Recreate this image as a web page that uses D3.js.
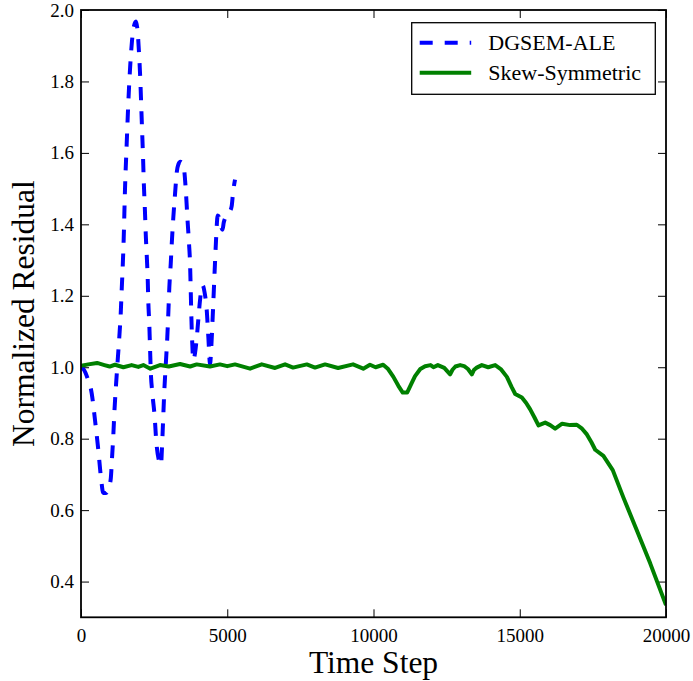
<!DOCTYPE html>
<html>
<head>
  <meta charset="utf-8">
  <title>Normalized Residual</title>
  <style>
    body { margin: 0; background: #fff; }
    svg { display: block; }
    text { font-family: "Liberation Serif", "DejaVu Serif", serif; fill: #000; }
    .tick line { stroke: #000; stroke-width: 1px; }
  </style>
  <script src="https://cdn.jsdelivr.net/npm/d3@7"></script>
</head>
<body>
<script>
  // DGSEM-ALE (blue, dashed)
  var dgsemSteps = [0, 100, 220, 366, 479, 592, 684, 762, 860, 960, 1020, 1060, 1105, 1145, 1197, 1255, 1310, 1358, 1392, 1426,
    1460, 1503, 1562, 1620, 1680, 1740, 1810, 1880, 1940, 1990, 2030, 2060, 2090, 2120, 2150, 2185, 2215, 2255, 2280, 2300,
    2335, 2360, 2385, 2440, 2520, 2570, 2660, 2735, 2765, 2794, 2849, 2907, 2951, 2985, 3020, 3068, 3102, 3157, 3215, 3273,
    3330, 3400, 3470, 3523, 3591, 3636, 3694, 3728, 3752, 3770, 3795, 3840, 3899, 3977, 4046, 4120, 4162, 4224, 4299, 4354,
    4412, 4457, 4502, 4580, 4616, 4674, 4740, 4800, 4840, 4880, 4990, 5080, 5150, 5200, 5266];
  var dgsemValues = [1.000, 0.993, 0.970, 0.927, 0.852, 0.768, 0.690, 0.648, 0.648, 0.665, 0.690, 0.745, 0.810, 0.880, 0.950, 1.020, 1.085, 1.150, 1.218, 1.282,
    1.360, 1.495, 1.625, 1.745, 1.840, 1.910, 1.955, 1.968, 1.935, 1.870, 1.800, 1.730, 1.660, 1.590, 1.510, 1.440, 1.370, 1.300, 1.250, 1.187,
    1.120, 1.055, 0.990, 0.927, 0.860, 0.796, 0.740, 0.726, 0.768, 0.824, 0.935, 1.020, 1.085, 1.150, 1.224, 1.290, 1.345, 1.420, 1.485, 1.545,
    1.568, 1.575, 1.572, 1.555, 1.485, 1.420, 1.345, 1.290, 1.215, 1.150, 1.085, 1.020, 1.040, 1.100, 1.168, 1.220, 1.229, 1.210, 1.159, 1.084,
    1.010, 1.060, 1.140, 1.290, 1.355, 1.425, 1.415, 1.390, 1.385, 1.405, 1.425, 1.435, 1.450, 1.490, 1.525];

  // Skew-Symmetric (green, solid)
  var skewSteps = [0, 250, 550, 800, 980, 1160, 1450, 1730, 1960, 2130, 2370, 2700, 3000, 3385, 3730, 3955, 4410, 4750, 5000, 5265,
    5780, 6180, 6635, 6977, 7250, 7720, 8000, 8345, 8790, 9300, 9650, 9880, 10070, 10330, 10500, 10680, 10850, 11000, 11150, 11300,
    11420, 11600, 11765, 11950, 12050, 12200, 12420, 12620, 12700, 12800, 12962, 13100, 13230, 13362, 13440, 13530, 13704, 13920, 14160, 14350,
    14560, 14720, 14845, 15072, 15220, 15357, 15500, 15640, 15870, 16040, 16210, 16450, 16720, 16950, 17130, 17295, 17450, 17580, 17860, 18180,
    18545, 18980, 19460, 20000];
  var skewValues = [1.004, 1.008, 1.012, 1.006, 1.002, 1.007, 1.000, 1.006, 1.001, 1.006, 0.996, 1.006, 1.002, 1.009, 1.002, 1.008, 1.002, 1.008, 1.003, 1.008,
    0.996, 1.008, 0.998, 1.008, 0.999, 1.008, 0.999, 1.008, 0.998, 1.008, 0.996, 1.007, 1.000, 1.007, 0.995, 0.973, 0.948, 0.929, 0.929, 0.955,
    0.975, 0.995, 1.003, 1.006, 1.000, 1.006, 0.998, 0.980, 0.993, 1.002, 1.006, 1.003, 0.995, 0.980, 0.993, 0.999, 1.006, 1.000, 1.006, 0.995,
    0.973, 0.945, 0.925, 0.915, 0.900, 0.882, 0.860, 0.837, 0.845, 0.838, 0.828, 0.842, 0.838, 0.839, 0.828, 0.812, 0.790, 0.769, 0.752, 0.712,
    0.635, 0.548, 0.451, 0.334];

  var xTicks = [0, 5000, 10000, 15000, 20000];
  var yTicks = [0.4, 0.6, 0.8, 1.0, 1.2, 1.4, 1.6, 1.8, 2.0];
  var seriesNames = ['DGSEM-ALE', 'Skew-Symmetric'];

  var width = 693, height = 681;
  var plotLeft = 81, plotRight = 666, plotTop = 10, plotBottom = 617.3;

  var x = d3.scaleLinear().domain([0, 20000]).range([plotLeft, plotRight]);
  var y = d3.scaleLinear().domain([0.3, 2.0]).range([plotBottom, plotTop]);

  var svg = d3.select('body').append('svg')
    .attr('width', width)
    .attr('height', height);

  svg.append('clipPath').attr('id', 'plot')
    .append('rect')
    .attr('x', plotLeft).attr('y', plotTop)
    .attr('width', plotRight - plotLeft).attr('height', plotBottom - plotTop);

  // axes with inward ticks
  svg.append('g')
    .attr('transform', `translate(0,${plotBottom})`)
    .call(d3.axisBottom(x).tickValues(xTicks).tickSize(-8).tickPadding(11).tickFormat(d3.format('d')))
    .call(g => g.select('.domain').remove())
    .selectAll('text').style('font-size', '19px').style('font-family', '"Liberation Serif", serif');

  svg.append('g')
    .attr('transform', `translate(0,${plotTop})`)
    .call(d3.axisTop(x).tickValues(xTicks).tickSize(-8).tickFormat(''))
    .call(g => g.select('.domain').remove());

  svg.append('g')
    .attr('transform', `translate(${plotLeft},0)`)
    .call(d3.axisLeft(y).tickValues(yTicks).tickSize(-8).tickPadding(7).tickFormat(d3.format('.1f')))
    .call(g => g.select('.domain').remove())
    .selectAll('text').style('font-size', '19px').style('font-family', '"Liberation Serif", serif');

  svg.append('g')
    .attr('transform', `translate(${plotRight},0)`)
    .call(d3.axisRight(y).tickValues(yTicks).tickSize(-8).tickFormat(''))
    .call(g => g.select('.domain').remove());

  var line = d3.line()
    .x(d => x(d[0]))
    .y(d => y(d[1]));

  var smoothLine = d3.line()
    .curve(d3.curveMonotoneX)
    .x(d => x(d[0]))
    .y(d => y(d[1]));

  var dgsem = d3.zip(dgsemSteps, dgsemValues);
  var skew = d3.zip(skewSteps, skewValues);

  var plot = svg.append('g').attr('clip-path', 'url(#plot)');

  plot.append('path')
    .datum(dgsem)
    .attr('fill', 'none')
    .attr('stroke', '#0000ff')
    .attr('stroke-width', 4)
    .attr('stroke-dasharray', '13,11')
    .attr('d', smoothLine);

  plot.append('path')
    .datum(skew)
    .attr('fill', 'none')
    .attr('stroke', '#008000')
    .attr('stroke-width', 4)
    .attr('stroke-linejoin', 'round')
    .attr('d', line);

  // frame
  svg.append('rect')
    .attr('x', plotLeft).attr('y', plotTop)
    .attr('width', plotRight - plotLeft).attr('height', plotBottom - plotTop)
    .attr('fill', 'none')
    .attr('stroke', '#000')
    .attr('stroke-width', 1.8);

  // axis labels
  svg.append('text')
    .attr('x', (plotLeft + plotRight) / 2)
    .attr('y', 673)
    .attr('text-anchor', 'middle')
    .style('font-size', '31.5px')
    .text('Time Step');

  svg.append('text')
    .attr('transform', `translate(34,${(plotTop + plotBottom) / 2}) rotate(-90)`)
    .attr('text-anchor', 'middle')
    .style('font-size', '31.5px')
    .text('Normalized Residual');

  // legend
  var legend = svg.append('g').attr('transform', 'translate(411.7,22.7)');
  legend.append('rect')
    .attr('width', 243.6).attr('height', 71.6)
    .attr('fill', '#fff')
    .attr('stroke', '#000')
    .attr('stroke-width', 1.3);

  var legendStyles = [
    { color: '#0000ff', dash: '13,12' },
    { color: '#008000', dash: null }
  ];

  seriesNames.forEach((name, i) => {
    var ly = 20 + i * 30;
    legend.append('line')
      .attr('x1', 8).attr('x2', 59.5)
      .attr('y1', ly).attr('y2', ly)
      .attr('stroke', legendStyles[i].color)
      .attr('stroke-width', 4)
      .attr('stroke-dasharray', legendStyles[i].dash);
    legend.append('text')
      .attr('x', 76.6)
      .attr('y', ly + 7.5)
      .style('font-size', '22px')
      .text(name);
  });
</script>
</body>
</html>
